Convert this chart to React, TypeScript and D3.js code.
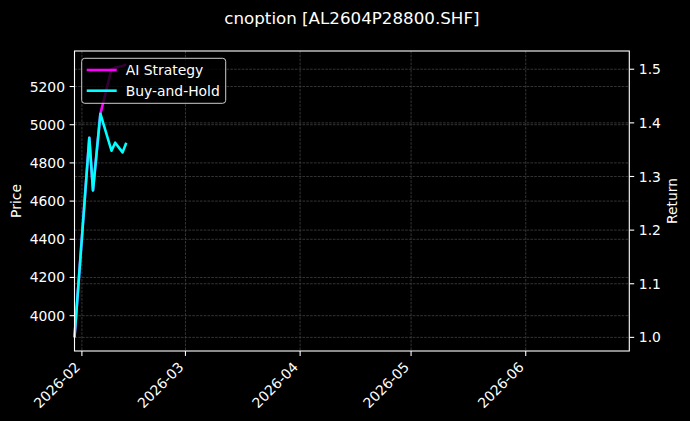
import React from 'react';
import * as d3 from 'd3';

// values
const DATES = ['2026-01-30', '2026-02-03', '2026-02-04', '2026-02-06', '2026-02-09', '2026-02-10', '2026-02-12', '2026-02-13'];
const AI_STRATEGY = [1.0, 1.372, 1.274, 1.417, 1.5, 1.503, 1.506, 1.509];
const BUY_AND_HOLD = [1.0, 1.372, 1.274, 1.417, 1.348, 1.363, 1.345, 1.363];

const X_DOMAIN = ['2026-01-30', '2026-06-29'];
const PRICE_DOMAIN = [3815, 5386];
const RETURN_DOMAIN = [0.9746, 1.534];
const PRICE_TICKS = [4000, 4200, 4400, 4600, 4800, 5000, 5200];
const RETURN_TICKS = [1.0, 1.1, 1.2, 1.3, 1.4, 1.5];
const MONTH_TICKS = ['2026-02-01', '2026-03-01', '2026-04-01', '2026-05-01', '2026-06-01'];

const W = 690;
const H = 421;
const PLOT = { left: 74.5, right: 629.3, top: 51, bottom: 351 };
const FONT = 'DejaVu Sans, sans-serif';
const GRID = '#4a4a4a';

const parse = (s: string) => new Date(s + 'T00:00:00Z');

const App = () => {
  const x = d3.scaleUtc().domain(X_DOMAIN.map(parse)).range([PLOT.left, PLOT.right]);
  const yPrice = d3.scaleLinear().domain(PRICE_DOMAIN).range([PLOT.bottom, PLOT.top]);
  const yRet = d3.scaleLinear().domain(RETURN_DOMAIN).range([PLOT.bottom, PLOT.top]);

  const line = d3.line<number>()
    .x((_, i) => x(parse(DATES[i])))
    .y(d => yRet(d));

  const fmtMonth = d3.utcFormat('%Y-%m');

  return (
    <div style={{ position: 'fixed', left: 0, top: 0 }}>
      <svg width={W} height={H} style={{ display: 'block', background: '#000' }} fontFamily={FONT}>
        <rect x={0} y={0} width={W} height={H} fill="#000" />

        {/* title */}
        <text x={(PLOT.left + PLOT.right) / 2} y={24} textAnchor="middle" fill="#fff" fontSize={16.7}>
          cnoption [AL2604P28800.SHF]
        </text>

        {/* grid */}
        <g strokeWidth={0.7} strokeDasharray="2.6,1.2" stroke={GRID}>
          {MONTH_TICKS.map(t => (
            <line key={'gx' + t} x1={x(parse(t))} x2={x(parse(t))} y1={PLOT.top} y2={PLOT.bottom} />
          ))}
          {PRICE_TICKS.map(t => (
            <line key={'gp' + t} x1={PLOT.left} x2={PLOT.right} y1={yPrice(t)} y2={yPrice(t)} />
          ))}
          {RETURN_TICKS.map(t => (
            <line key={'gr' + t} x1={PLOT.left} x2={PLOT.right} y1={yRet(t)} y2={yRet(t)} />
          ))}
        </g>

        {/* series */}
        <path d={line(AI_STRATEGY) || ''} fill="none" stroke="#ff00ff" strokeWidth={2.6} strokeLinejoin="round" />
        <path d={line(BUY_AND_HOLD) || ''} fill="none" stroke="#00ffff" strokeWidth={2.6} strokeLinejoin="round" />

        {/* frame */}
        <rect x={PLOT.left} y={PLOT.top} width={PLOT.right - PLOT.left} height={PLOT.bottom - PLOT.top}
          fill="none" stroke="#fff" strokeWidth={1.1} />

        {/* left axis */}
        {PRICE_TICKS.map(t => (
          <g key={'lp' + t} transform={`translate(${PLOT.left},${yPrice(t)})`}>
            <line x1={-4.9} x2={0} stroke="#fff" strokeWidth={1.1} />
            <text x={-9.5} dy="0.36em" textAnchor="end" fill="#fff" fontSize={13.9}>{t}</text>
          </g>
        ))}
        <text transform={`translate(21,${(PLOT.top + PLOT.bottom) / 2}) rotate(-90)`} textAnchor="middle"
          fill="#fff" fontSize={13.9}>Price</text>

        {/* right axis */}
        {RETURN_TICKS.map(t => (
          <g key={'rr' + t} transform={`translate(${PLOT.right},${yRet(t)})`}>
            <line x1={0} x2={4.9} stroke="#fff" strokeWidth={1.1} />
            <text x={9.5} dy="0.36em" textAnchor="start" fill="#fff" fontSize={13.9}>{t.toFixed(1)}</text>
          </g>
        ))}
        <text transform={`translate(677,${(PLOT.top + PLOT.bottom) / 2}) rotate(-90)`} textAnchor="middle"
          fill="#fff" fontSize={13.9}>Return</text>

        {/* bottom axis */}
        {MONTH_TICKS.map(t => (
          <g key={'bx' + t} transform={`translate(${x(parse(t))},${PLOT.bottom})`}>
            <line y1={0} y2={4.9} stroke="#fff" strokeWidth={1.1} />
            <text transform="translate(-1,17) rotate(-45)" textAnchor="end" fill="#fff" fontSize={13.9}>
              {fmtMonth(parse(t))}
            </text>
          </g>
        ))}

        {/* legend */}
        <g transform="translate(81.7,58.3)">
          <rect width={144} height={45} rx={3} fill="#000" fillOpacity={0.8} stroke="#cccccc" strokeWidth={1} />
          <line x1={5} x2={35} y1={11.7} y2={11.7} stroke="#ff00ff" strokeWidth={2.6} />
          <text x={44} y={11.7} dy="0.36em" fill="#fff" fontSize={13.9}>AI Strategy</text>
          <line x1={5} x2={35} y1={32.4} y2={32.4} stroke="#00ffff" strokeWidth={2.6} />
          <text x={44} y={32.4} dy="0.36em" fill="#fff" fontSize={13.9}>Buy-and-Hold</text>
        </g>
      </svg>
    </div>
  );
};

export default App;
